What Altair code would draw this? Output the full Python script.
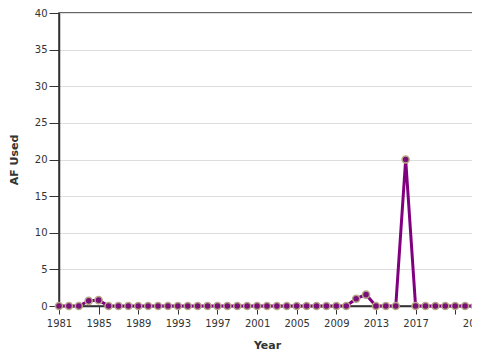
import altair as alt
import pandas as pd

years = list(range(1981, 2024))
af_used = [0, 0, 0, 0.7, 0.8, 0, 0, 0, 0, 0,
           0, 0, 0, 0, 0, 0, 0, 0, 0, 0,
           0, 0, 0, 0, 0, 0, 0, 0, 0, 0,
           1.0, 1.55, 0, 0, 0, 20, 0, 0, 0, 0,
           0, 0, 0]
tick_years = [1981, 1985, 1989, 1993, 1997, 2001, 2005, 2009, 2013, 2017, 2021, 2023]

df = pd.DataFrame({"Year": years, "AF Used": af_used})

FONT = "DejaVu Sans"

x = alt.X("Year:Q", scale=alt.Scale(domain=[1981, 2023], nice=False, zero=False),
          axis=alt.Axis(values=tick_years, format="d", grid=False, title="Year",
                        labelExpr="datum.value == 2021 ? '' : datum.label",
                        labelOverlap=False, labelFlush=False, labelFontSize=10, titleFontSize=11,
                        labelFont=FONT, titleFont=FONT, tickSize=8, labelPadding=4,
                        domainColor="#333", tickColor="#333", labelColor="#333",
                        titleColor="#333", domainWidth=1.5, titlePadding=11))
y = alt.Y("AF Used:Q", scale=alt.Scale(domain=[0, 40]),
          axis=alt.Axis(values=[0, 5, 10, 15, 20, 25, 30, 35, 40], title="AF Used",
                        labelFontSize=10, titleFontSize=11, labelFlush=False,
                        labelFont=FONT, titleFont=FONT, gridColor="#ddd",
                        tickSize=10, labelPadding=2,
                        domainColor="#333", tickColor="#333", labelColor="#333",
                        titleColor="#333", domainWidth=1.5, titlePadding=15))

line = alt.Chart(df).mark_line(color="#800080", strokeWidth=3).encode(x=x, y=y)
pts = alt.Chart(df).mark_point(filled=True, fill="#7a0f7a", stroke="#b5a985",
                               strokeWidth=1.5, size=50, opacity=1).encode(x=x, y=y)

chart = alt.layer(line, pts).properties(
    width=416, height=293,
    autosize=alt.AutoSizeParams(type="none"),
    padding={"left": 51, "top": 5, "right": -3, "bottom": 46},
).configure_view(stroke="#333", strokeWidth=1.5)

chart.save("out.html", embed_options={"renderer": "svg", "actions": False})
